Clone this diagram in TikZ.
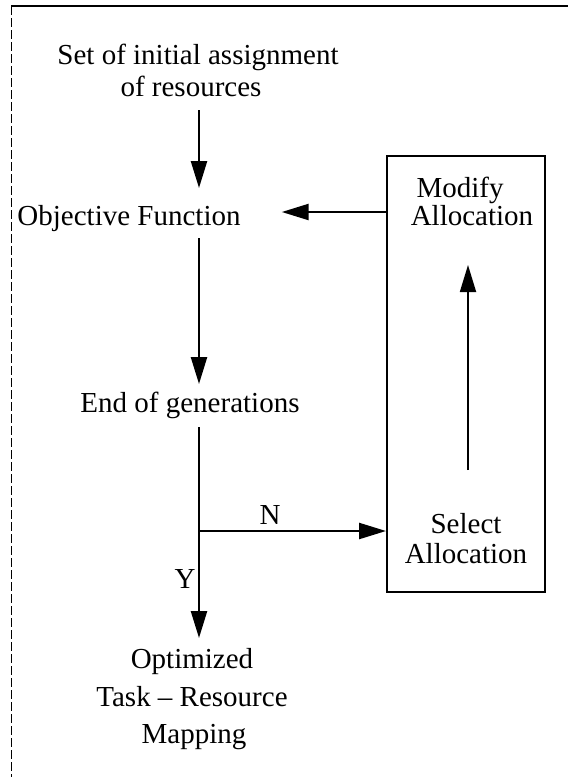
\documentclass[tikz,border=0pt]{standalone}
\usepackage{fontspec}
\setmainfont{Liberation Serif}
\usetikzlibrary{arrows.meta}
\begin{document}
\begin{tikzpicture}[x=1pt,y=-1pt,
  lbl/.style={inner sep=0pt, anchor=base, font=\fontsize{29}{35}\selectfont},
  arr/.style={line width=2.4pt, -{Triangle[length=27pt,width=16pt]}},
  thinarr/.style={line width=1.8pt, -{Triangle[length=27pt,width=16pt]}},
  boxstyle/.style={draw, line width=2pt, inner sep=0pt, minimum width=158pt, minimum height=436pt}]
\useasboundingbox (0,0) rectangle (568,777);
% frame
\coordinate (tl) at (11,6);
\coordinate (tr) at (568,6);
\coordinate (bl) at (11,777);
\draw[line width=1.8pt] (tl) -- (tr);
\draw[line width=0.8pt, dash pattern=on 9pt off 3pt] (tl) -- (bl);
% texts
\node[lbl] (set1) at (198,64) {Set of initial assignment};
\node[lbl] (set2) at (191,96) {of resources};
\node[lbl] (obj) at (129,225) {Objective Function};
\node[lbl] (end) at (190,412) {End of generations};
\node[lbl] (opt1) at (192,668) {Optimized};
\node[lbl] (opt2) at (192,706) {Task -- Resource};
\node[lbl] (opt3) at (194,743) {Mapping};
\node[lbl] (nlab) at (270,524) {N};
\node[lbl] (ylab) at (185,588) {Y};
% box
\node[boxstyle] (box) at (466,374) {};
\node[lbl] (mod1) at (460,197) {Modify};
\node[lbl] (mod2) at (472,225) {Allocation};
\node[lbl] (sel1) at (466,533) {Select};
\node[lbl] (sel2) at (466,563) {Allocation};
% columns
\coordinate (col) at (199,0);
\coordinate (upcol) at (468,0);
\coordinate (jn) at (199,531);
% connectors
\draw[arr, shorten <=14pt, shorten >=37pt] (set2.base -| col) -- (obj.base -| col);
\draw[arr, shorten <=13pt, shorten >=28pt] (obj.base -| col) -- (end.base -| col);
\draw[arr, shorten <=15pt, shorten >=30pt] (end.base -| col) -- (opt1.base -| col);
\draw[arr] (jn) -- (jn -| box.west);
\draw[arr, shorten >=41pt] ([yshift=13pt]box.west |- obj.base) -- ([yshift=13pt]obj.base east);
\draw[thinarr, shorten <=63pt, shorten >=40pt] (sel1.base -| upcol) -- (mod2.base -| upcol);
\end{tikzpicture}
\end{document}
